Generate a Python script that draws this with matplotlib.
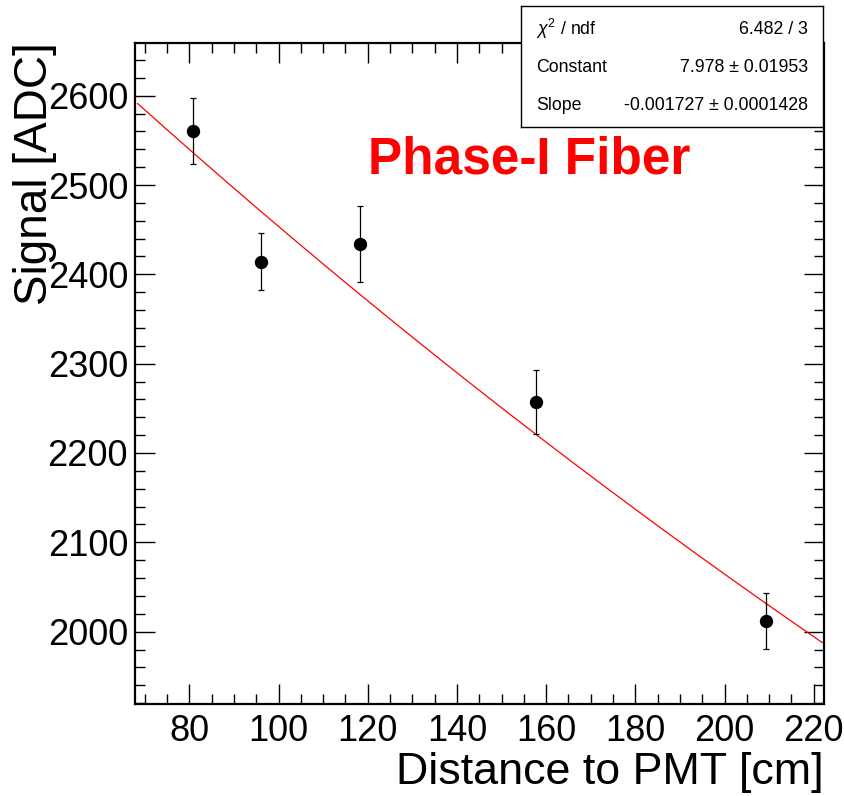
import numpy as np
import matplotlib
matplotlib.use("Agg")
import matplotlib.pyplot as plt
from matplotlib.ticker import MultipleLocator

plt.rcParams["font.family"] = ["Liberation Sans", "DejaVu Sans"]
plt.rcParams["mathtext.fontset"] = "custom"
plt.rcParams["mathtext.rm"] = "Liberation Sans"
plt.rcParams["mathtext.it"] = "Liberation Sans:italic"

# measured points
distance = [80.7, 96.1, 118.3, 157.7, 209.3]
signal = [2560, 2414, 2434, 2257, 2012]
signal_err = [37, 32, 43, 36, 31]

# expo fit result (from stats box)
fit_const = 7.978
fit_slope = -0.001727
stat_names = [r"$\chi^{2}$ / ndf", "Constant", "Slope"]
stat_values = ["6.482 / 3", "7.978 \u00b1 0.01953", "-0.001727 \u00b1 0.0001428"]

xlim = (67.8, 222.3)
ylim = (1919, 2659)

fig = plt.figure(figsize=(8.44, 7.96), dpi=100)
ax = fig.add_axes([135/844, 1-704/796, (824-135)/844, (704-43)/796])

xf = np.linspace(xlim[0] + 0.6, xlim[1] - 0.4, 200)
ax.plot(xf, np.exp(fit_const + fit_slope*xf), color="red", lw=0.9, zorder=2)
ax.errorbar(distance, signal, yerr=signal_err, fmt="o", color="black", ms=8.6,
            elinewidth=0.9, capsize=2.3, capthick=0.9, zorder=3)

ax.set_xlim(*xlim)
ax.set_ylim(*ylim)
ax.xaxis.set_major_locator(MultipleLocator(20))
ax.xaxis.set_minor_locator(MultipleLocator(5))
ax.yaxis.set_major_locator(MultipleLocator(100))
ax.yaxis.set_minor_locator(MultipleLocator(20))
ax.tick_params(which="both", direction="in", top=True, right=True, width=1.0)
ax.tick_params(which="major", length=14.4, labelsize=26)
ax.tick_params(axis="x", which="major", pad=7)
ax.tick_params(axis="y", which="major", pad=5)
ax.tick_params(which="minor", length=7)
for sp in ax.spines.values():
    sp.set_linewidth(1.6)

ax.text(529/844, 1-160/796, "Phase-I Fiber", transform=fig.transFigure,
        color="red", fontsize=37, fontweight="bold", ha="center", va="center")

fig.text(824/844, 1-752/796, "Distance to PMT [cm]", fontsize=32.3, ha="right", va="top")
fig.text(35/844, 1-42/796, "Signal [ADC]", fontsize=33, rotation=90, ha="center", va="top")

# stats box
sbox = fig.add_axes([521/844, 1-127/796, (823-521)/844, (127-6)/796])
sbox.set_xticks([])
sbox.set_yticks([])
for sp in sbox.spines.values():
    sp.set_linewidth(1.0)
row_y = [29, 68, 106]
for name, val, ry in zip(stat_names, stat_values, row_y):
    fig.text(536/844, 1-ry/796, name, fontsize=12.8, ha="left", va="center")
    fig.text(808/844, 1-ry/796, val, fontsize=12.8, ha="right", va="center")

fig.savefig("out.png", dpi=100)
